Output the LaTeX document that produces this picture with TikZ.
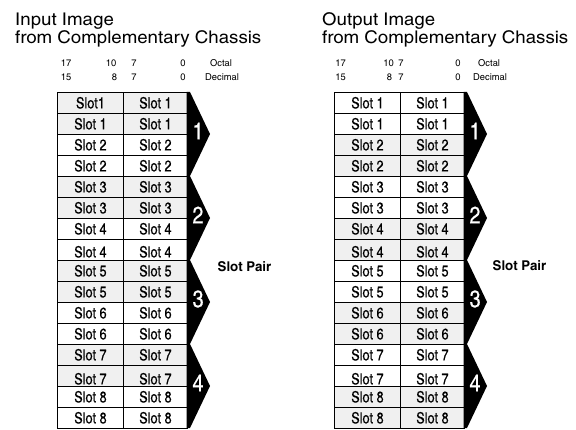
\documentclass[tikz,border=0pt]{standalone}
\usepackage{fontspec}
\setmainfont{texgyreheroscn}[Extension=.otf,UprightFont=*-regular,BoldFont=*-bold,FakeBold=0.3]
\newfontfamily\titlefont{texgyreheroscn}[Extension=.otf,UprightFont=*-regular,BoldFont=*-bold,FakeStretch=1.3]
\newfontfamily\widefont{texgyreheroscn}[Extension=.otf,UprightFont=*-regular,BoldFont=*-bold,FakeStretch=1.2]
\definecolor{cellgray}{HTML}{F0F0F0}
\begin{document}
\begin{tikzpicture}[x=1pt,y=-1pt,
  cell/.style={draw=black, line width=0.8pt, minimum height=21pt, inner sep=0pt,
    anchor=north west, font=\fontsize{15.5}{17}\selectfont, text height=11pt, text depth=0pt},
  title/.style={anchor=base west, inner sep=0pt, font=\titlefont\fontsize{17.5}{20}\selectfont},
  bits/.style={anchor=base, inner sep=0pt, font=\widefont\fontsize{9.5}{11}\selectfont},
  bitw/.style={anchor=base west, inner sep=0pt, font=\widefont\fontsize{9.5}{11}\selectfont},
  plab/.style={text=white, inner sep=0pt, font=\fontsize{24}{26}\selectfont},
  pair/.style={inner sep=0pt, font=\widefont\bfseries\fontsize{13.5}{15}\selectfont}]
\useasboundingbox (0,0) rectangle (576,430);
% titles
\node[title] (tl1) at (15,26) {Input Image};
\node[title] (tl2) at (15,44) {from Complementary Chassis};
\node[title] (tr1) at (322,26) {Output Image};
\node[title] (tr2) at (322,44) {from Complementary Chassis};
% bit numbers left
\node[bits] (lo17) at (66,66.5) {17};
\node[bits] (lo10) at (111,66.5) {10};
\node[bits] (lo7) at (134,66.5) {7};
\node[bits] (lo0) at (183,66.5) {0};
\node[bitw] (loct) at (210,66.5) {Octal};
\node[bits] (ld15) at (66,81) {15};
\node[bits] (ld8) at (114.5,81) {8};
\node[bits] (ld7) at (134,81) {7};
\node[bits] (ld0) at (183,81) {0};
\node[bitw] (ldec) at (205,81) {Decimal};
% bit numbers right
\node[bits] (ro17) at (340.5,66.5) {17};
\node[bits] (ro10) at (388.5,66.5) {10};
\node[bits] (ro7) at (401,66.5) {7};
\node[bits] (ro0) at (458,66.5) {0};
\node[bitw] (roct) at (478,66.5) {Octal};
\node[bits] (rd15) at (340.5,81) {15};
\node[bits] (rd8) at (389.5,81) {8};
\node[bits] (rd7) at (401,81) {7};
\node[bits] (rd0) at (458,81) {0};
\node[bitw] (rdec) at (473,81) {Decimal};
% tables
\foreach \r in {1,...,16} {
  \pgfmathtruncatemacro\n{ceil(\r/2)}
  \pgfmathtruncatemacro\g{mod(floor((\r-1)/2),2)}
  \pgfmathsetmacro\y{92+21*(\r-1)}
  \ifnum\g=0 \def\lf{cellgray}\def\rf{white}\else\def\lf{white}\def\rf{cellgray}\fi
  \ifnum\r=14 \def\sh{-3pt}\else\ifnum\r=8 \def\sh{-2pt}\else\def\sh{0pt}\fi\fi
  \ifnum\r=1 \def\fst{Slot1}\else\def\fst{Slot \n}\fi
  \node[cell, fill=\lf, minimum width=66pt] (L\r a) at (57,\y) {\raisebox{\sh}[0pt][0pt]{\fst}};
  \node[cell, fill=\lf, minimum width=64pt] (L\r b) at (123,\y) {\raisebox{\sh}[0pt][0pt]{Slot \n}};
  \node[cell, fill=\rf, minimum width=66pt] (R\r a) at (334,\y) {\raisebox{\sh}[0pt][0pt]{Slot \n}};
  \node[cell, fill=\rf, minimum width=64pt] (R\r b) at (400,\y) {\raisebox{\sh}[0pt][0pt]{Slot \n}};
}
% slot pair arrows
\foreach \k in {0,...,3} {
  \pgfmathsetmacro\t{92+84*\k}
  \pgfmathtruncatemacro\p{\k+1}
  \fill[black] (186.6,\t) -- (190,\t) -- (210,\t+42) -- (190,\t+84) -- (186.6,\t+84) -- cycle;
  \fill[black] (463.6,\t) -- (467,\t) -- (487,\t+42) -- (467,\t+84) -- (463.6,\t+84) -- cycle;
  \node[plab] (LP\p) at (198,\t+39) {\p};
  \node[plab] (RP\p) at (475,\t+39) {\p};
}
\node[pair] (lpair) at (244.5,267) {Slot Pair};
\node[pair] (rpair) at (519.5,266) {Slot Pair};
\end{tikzpicture}
\end{document}
